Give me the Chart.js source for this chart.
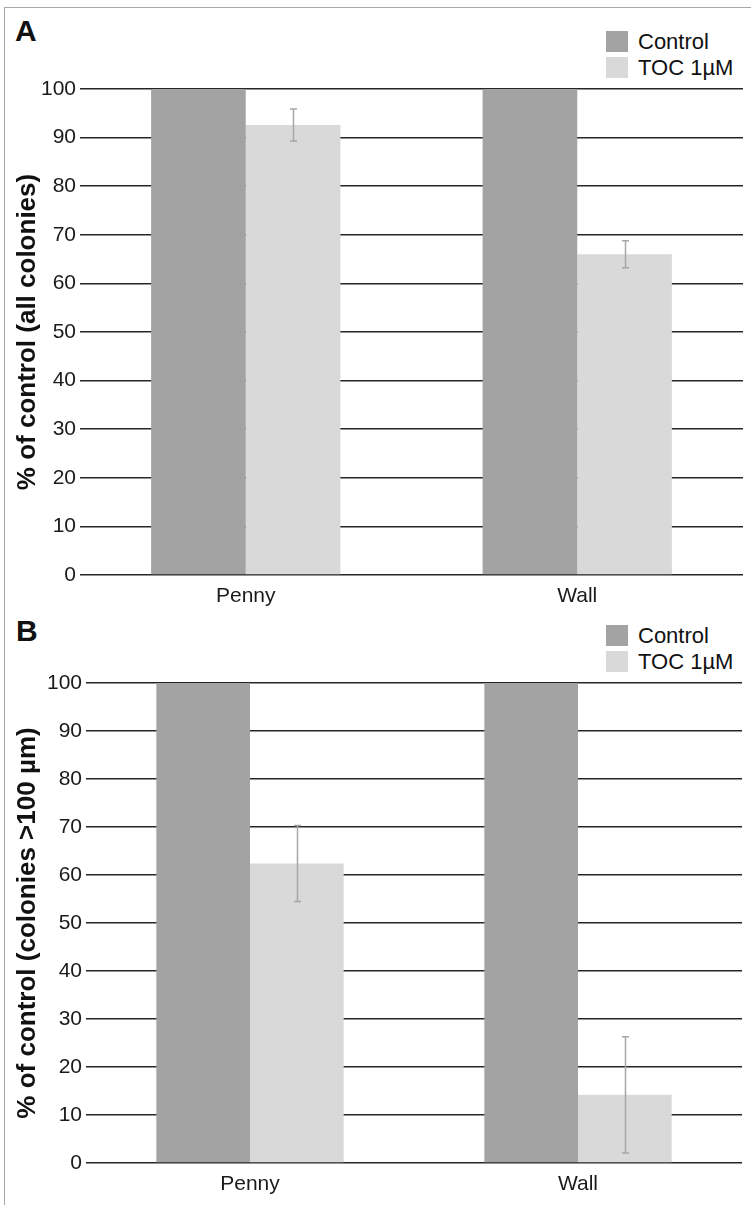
<!DOCTYPE html>
<html>
<head>
<meta charset="utf-8">
<script src="https://cdn.jsdelivr.net/npm/chart.js@4.4.1/dist/chart.umd.min.js"></script>
<style>
  html, body { margin: 0; padding: 0; background: #fff; }
  body { width: 751px; height: 1205px; position: relative; overflow: hidden; font-family: 'Liberation Sans', Arial, sans-serif; }
  .frame { position: absolute; left: 4px; top: 7px; width: 800px; height: 1300px; border-top: 1px solid #a8a8a8; border-left: 1px solid #a8a8a8; box-sizing: border-box; }
  canvas { position: absolute; left: 0; }
  .panel { position: absolute; font-weight: bold; font-size: 30px; line-height: 30px; color: #111; }
  .legend { position: absolute; left: 606px; }
  .legend .row { position: relative; height: 26px; }
  .legend .sw { position: absolute; left: 0; top: 0; width: 22px; height: 21px; }
  .legend .tx { position: absolute; left: 32px; top: 0; font-size: 22px; line-height: 22px; color: #111; white-space: nowrap; }
</style>
</head>
<body>
<div class="frame"></div>
<div class="panel" style="left:15px; top:16px;">A</div>
<div class="panel" style="left:16px; top:616px;">B</div>
<div class="legend" id="legA" style="top:31px;"></div>
<div class="legend" id="legB" style="top:625px;"></div>
<canvas id="chartA" width="751" height="620" style="top:0px;"></canvas>
<canvas id="chartB" width="751" height="605" style="top:600px;"></canvas>
<script>
// ---- data ----
const categories = ['Penny', 'Wall'];
const seriesNames = ['Control', 'TOC 1µM'];
const yTicks = [0, 10, 20, 30, 40, 50, 60, 70, 80, 90, 100];

const controlA = [100, 100];
const tocA = [92.6, 66.0];
const tocErrA = [3.3, 2.8];

const controlB = [100, 100];
const tocB = [62.4, 14.2];
const tocErrB = [7.9, 12.1];

const titleA = '% of control (all colonies)';
const titleB = '% of control (colonies >100 µm)';

// ---- styles ----
const COLORS = ['#a3a3a3', '#d9d9d9'];
const FONT = "'Liberation Sans', Arial, sans-serif";

const errorBars = {
  id: 'errorBars',
  afterDatasetsDraw(chart) {
    const ctx = chart.ctx;
    const y = chart.scales.y;
    chart.data.datasets.forEach((ds, i) => {
      if (!ds.errors) return;
      const meta = chart.getDatasetMeta(i);
      meta.data.forEach((bar, j) => {
        const v = ds.data[j], e = ds.errors[j];
        const x = Math.round(bar.x) + 0.5;
        const yt = y.getPixelForValue(v + e), yb = y.getPixelForValue(v - e);
        ctx.save();
        ctx.strokeStyle = '#a6a6a6';
        ctx.lineWidth = 1.5;
        ctx.beginPath();
        ctx.moveTo(x, yt); ctx.lineTo(x, yb);
        ctx.moveTo(x - 3.5, yt); ctx.lineTo(x + 3.5, yt);
        ctx.moveTo(x - 3.5, yb); ctx.lineTo(x + 3.5, yb);
        ctx.stroke();
        ctx.restore();
      });
    });
  }
};

function buildLegend(id) {
  const el = document.getElementById(id);
  seriesNames.forEach((n, i) => {
    const row = document.createElement('div');
    row.className = 'row';
    row.innerHTML = '<div class="sw" style="background:' + COLORS[i] + '"></div><div class="tx"></div>';
    row.querySelector('.tx').textContent = n;
    el.appendChild(row);
  });
}
buildLegend('legA');
buildLegend('legB');

function makeChart(id, control, toc, tocErr, title, pad, yWidth, xHeight, titlePad) {
  return new Chart(document.getElementById(id), {
    type: 'bar',
    data: {
      labels: categories,
      datasets: [
        { label: seriesNames[0], data: control, backgroundColor: COLORS[0], borderWidth: 0,
          categoryPercentage: 0.571, barPercentage: 1.0 },
        { label: seriesNames[1], data: toc, errors: tocErr, backgroundColor: COLORS[1], borderWidth: 0,
          categoryPercentage: 0.571, barPercentage: 1.0 }
      ]
    },
    options: {
      responsive: false,
      animation: false,
      devicePixelRatio: 1,
      layout: { padding: pad },
      plugins: { legend: { display: false }, tooltip: { enabled: false } },
      scales: {
        x: {
          grid: { display: false },
          border: { display: false },
          ticks: { color: '#1a1a1a', font: { family: FONT, size: 21 }, padding: 1 },
          afterFit(s) { s.height = xHeight; }
        },
        y: {
          min: 0, max: 100,
          afterBuildTicks(s) { s.ticks = yTicks.map(v => ({ value: v })); },
          grid: { color: '#262626', lineWidth: 1.6, drawTicks: false },
          border: { display: false },
          ticks: { color: '#1a1a1a', font: { family: FONT, size: 21 }, padding: 4 },
          title: { display: true, text: title, color: '#111', font: { family: FONT, size: 26, weight: 'bold' },
                   padding: { top: titlePad, bottom: 0 } },
          afterFit(s) { s.width = yWidth; }
        }
      }
    },
    plugins: [errorBars]
  });
}

makeChart('chartA', controlA, tocA, tocErrA, titleA, { top: 89, bottom: 0, left: 0, right: 8 }, 80, 45, 12);
makeChart('chartB', controlB, tocB, tocErrB, titleB, { top: 83, bottom: 0, left: 0, right: 9 }, 86, 42, 12);
</script>
</body>
</html>
